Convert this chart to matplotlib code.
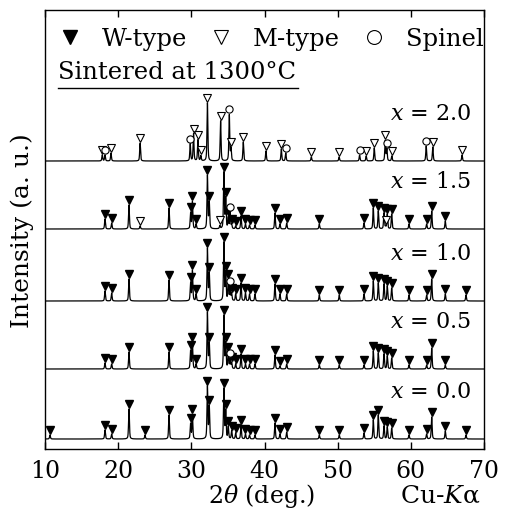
import numpy as np
import matplotlib.pyplot as plt
from matplotlib.lines import Line2D

plt.rcParams['font.family'] = ['DejaVu Serif']
plt.rcParams['mathtext.fontset'] = 'dejavuserif'

# composition labels and vertical offsets of each pattern
samples = ['0.0', '0.5', '1.0', '1.5', '2.0']
offsets = [0, 70, 138, 210, 278]

# W-type reflections (2theta, deg) shared by x = 0.0 ... 1.5
w_pos = [10.68, 18.20, 19.11, 21.48, 23.67, 26.95, 29.90, 30.15, 30.65, 32.20,
         32.45, 34.45, 34.70, 35.05, 35.51, 36.06, 36.79, 37.40, 37.95, 38.70,
         41.43, 42.11, 43.03, 47.49, 50.22, 53.60, 54.87, 55.55, 56.33, 56.78,
         57.38, 59.75, 62.16, 62.85, 64.71, 67.54]
w_int_00 = [4, 9, 5, 30, 4, 24, 15, 24, 0, 52, 32, 50, 28, 12, 8, 6, 14, 5, 4, 4,
            16, 5, 7, 4, 4, 6, 19, 24, 13, 12, 11, 4, 5, 22, 8, 4]
w_int_05 = [0, 6, 5, 17, 0, 17, 18, 26, 5, 56, 25, 53, 25, 16, 6, 5, 15, 5, 5, 5,
            14, 3, 5, 4, 4, 4, 18, 16, 15, 13, 11, 4, 4, 21, 4, 0]
w_int_10 = [0, 10, 8, 22, 0, 21, 18, 30, 7, 52, 27, 58, 27, 20, 7, 7, 18, 8, 7, 7,
            17, 7, 7, 6, 6, 7, 20, 18, 17, 15, 13, 6, 6, 22, 7, 6]
w_int_15 = [0, 10, 6, 24, 0, 21, 16, 27, 5, 53, 26, 56, 30, 11, 4, 3, 13, 5, 4, 4,
            16, 5, 6, 5, 0, 6, 21, 18, 16, 15, 15, 5, 5, 18, 8, 0]

# M-type reflections
m_pos_15 = [23.0, 33.9, 56.55]
m_int_15 = [3, 3, 2]
m_pos_20 = [17.83, 19.02, 23.0, 30.3, 30.9, 31.3, 32.2, 34.0, 35.42, 37.1,
            40.2, 42.3, 46.4, 50.2, 53.9, 55.0, 56.5, 57.4, 63.0, 67.0]
m_int_20 = [6, 8, 18, 27, 21, 5, 58, 40, 12, 19, 10, 12, 4, 4, 5, 13, 20, 5, 14, 6]

# spinel reflections
s_pos_05 = [35.3]
s_int_05 = [10]
s_pos_10 = [35.3]
s_int_10 = [13]
s_pos_15 = [35.3]
s_int_15 = [16]
s_pos_20 = [18.2, 29.85, 35.19, 42.9, 53.0, 56.72, 62.1]
s_int_20 = [6, 17, 46, 8, 6, 12, 15]

phases = {
    '0.0': [('W', w_pos, w_int_00)],
    '0.5': [('W', w_pos, w_int_05), ('S', s_pos_05, s_int_05)],
    '1.0': [('W', w_pos, w_int_10), ('S', s_pos_10, s_int_10)],
    '1.5': [('W', w_pos, w_int_15), ('M', m_pos_15, m_int_15), ('S', s_pos_15, s_int_15)],
    '2.0': [('M', m_pos_20, m_int_20), ('S', s_pos_20, s_int_20)],
}

marker_style = {
    'W': dict(marker='v', mfc='black', mec='black'),
    'M': dict(marker='v', mfc='white', mec='black', mew=0.8),
    'S': dict(marker='o', mfc='white', mec='black', mew=0.8),
}

tt = np.linspace(10, 70, 8001)
fwhm = 0.14


def pseudo_voigt(x, c):
    g = np.exp(-4 * np.log(2) * ((x - c) / fwhm) ** 2)
    lo = 1.0 / (1.0 + 4 * ((x - c) / fwhm) ** 2)
    return 0.5 * g + 0.5 * lo


fig = plt.figure(figsize=(5.05, 5.10), dpi=100)
ax = fig.add_axes([45 / 505, 60 / 510, 439 / 505, 439 / 510])

for name, off in zip(samples, offsets):
    prof = np.zeros_like(tt)
    for ph, pos, hts in phases[name]:
        for c, h in zip(pos, hts):
            prof += h * pseudo_voigt(tt, c)
    ax.plot(tt, prof + off, color='black', lw=0.9, zorder=2)

    # phase markers sit just above each reflection
    for ph, pos, hts in phases[name]:
        for c, h in zip(pos, hts):
            if h <= 0:
                continue
            top = np.interp(c, tt, prof)
            ax.plot(c, off + top + 5, ls='none', ms=5.2, zorder=3,
                    **marker_style[ph])

    ax.text(68.2, off + 48, r'$x$ = ' + name, ha='right', va='center',
            fontsize=16)

ax.set_xlim(10, 70)
ax.set_ylim(-10, 429)
ax.set_xticks(np.arange(10, 71, 10))
ax.set_yticks([])
ax.tick_params(axis='x', direction='in', top=True, length=5, width=1,
               labelsize=17, pad=7)
for sp in ax.spines.values():
    sp.set_linewidth(1.0)

handles = [Line2D([], [], ls='none', ms=10, **marker_style['W']),
           Line2D([], [], ls='none', ms=10, **marker_style['M']),
           Line2D([], [], ls='none', ms=10, **marker_style['S'])]
ax.legend(handles, ['W-type', 'M-type', 'Spinel'], loc='center',
          bbox_to_anchor=(0.52, 0.934), ncol=3, frameon=False, fontsize=17.5,
          handletextpad=1.0, columnspacing=1.1, handlelength=0.6,
          borderaxespad=0, borderpad=0)

ax.text(0.03, 0.861, 'Sintered at 1300°C', transform=ax.transAxes,
        ha='left', va='center', fontsize=17.5)
ax.plot([0.03, 0.576], [0.822, 0.822], transform=ax.transAxes,
        color='black', lw=1.0, clip_on=False)

ax.set_ylabel('Intensity (a. u.)', fontsize=18, labelpad=8)
fig.text(262 / 505, 1 - 496 / 510, r'2$\theta$ (deg.)', ha='center',
         va='center', fontsize=17)
fig.text(481 / 505, 1 - 496 / 510, r'Cu-$K$α', ha='right', va='center',
         fontsize=18)

fig.savefig('out.png', dpi=100)
